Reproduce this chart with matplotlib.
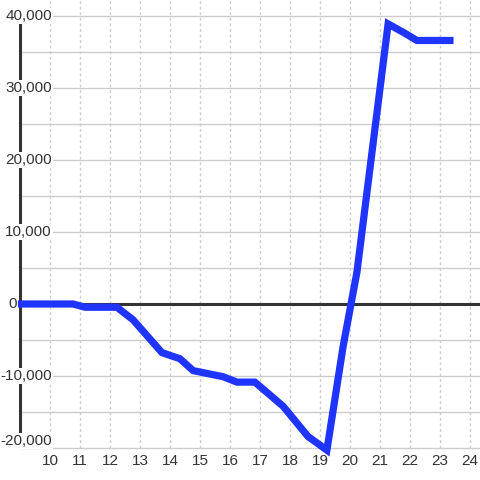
import numpy as np
import matplotlib
matplotlib.use("Agg")
import matplotlib.pyplot as plt
import matplotlib.transforms as mtransforms

plt.rcParams['font.family'] = ['Liberation Sans', 'DejaVu Sans']

# data
x_vals = [9.0, 10.77, 11.17, 12.23, 12.77, 13.73, 14.33, 14.77, 15.77, 16.23,
          16.83, 17.77, 18.6, 19.23, 19.77, 20.23, 21.27, 21.83, 22.23, 23.33]
y_vals = [0, 0, -450, -450, -2200, -6750, -7600, -9250, -10100, -10850,
          -10850, -14200, -18400, -20300, -5900, 4400, 38900, 37600, 36600, 36600]

x_ticks = list(range(10, 25))
y_major = [-20000, -10000, 0, 10000, 20000, 30000, 40000]
y_grid = list(range(-20000, 40001, 5000))

text_col = '#333333'

fig = plt.figure(figsize=(4.8, 4.8), dpi=100)
ax = fig.add_axes([0, 0, 1, 1])
ax.set_xlim(8.333, 24.333)
ax.set_ylim(-24444, 42222)
for s in ax.spines.values():
    s.set_visible(False)

# grid
ax.hlines(y_grid, 9, 24.333, color='#cccccc', lw=1, zorder=1)
ax.vlines(x_ticks, -20000, 42222, color='#cccccc', lw=1, linestyles=(0, (2, 2)), zorder=1)

# axis lines
ax.hlines(0, 9, 24.333, color=text_col, lw=2.2, zorder=2)
ax.vlines(9, -20000, 40000, color=text_col, lw=2.2, zorder=2)

ax.plot(x_vals, y_vals, color='#1f35ff', lw=5.2, solid_joinstyle='miter', zorder=3)

# x labels inside the plot, along the bottom
ax.set_xticks(x_ticks)
ax.tick_params(axis='x', length=0, pad=-19, labelsize=11, labelcolor=text_col)
ax.set_yticks([])

# y labels drawn over the axis line, with a white box
trans = mtransforms.blended_transform_factory(ax.transAxes, ax.transData)
for v in y_major:
    label = f"{v:,}"
    xpos = 0.0354 if v == 0 else 0.1083
    va = 'bottom' if v == min(y_major) else 'center'
    ax.text(xpos, v, label, transform=trans, ha='right', va=va, fontsize=11,
            color=text_col, zorder=6,
            bbox=dict(facecolor='white', edgecolor='none', pad=0.8))

fig.savefig('out.png', dpi=100)
